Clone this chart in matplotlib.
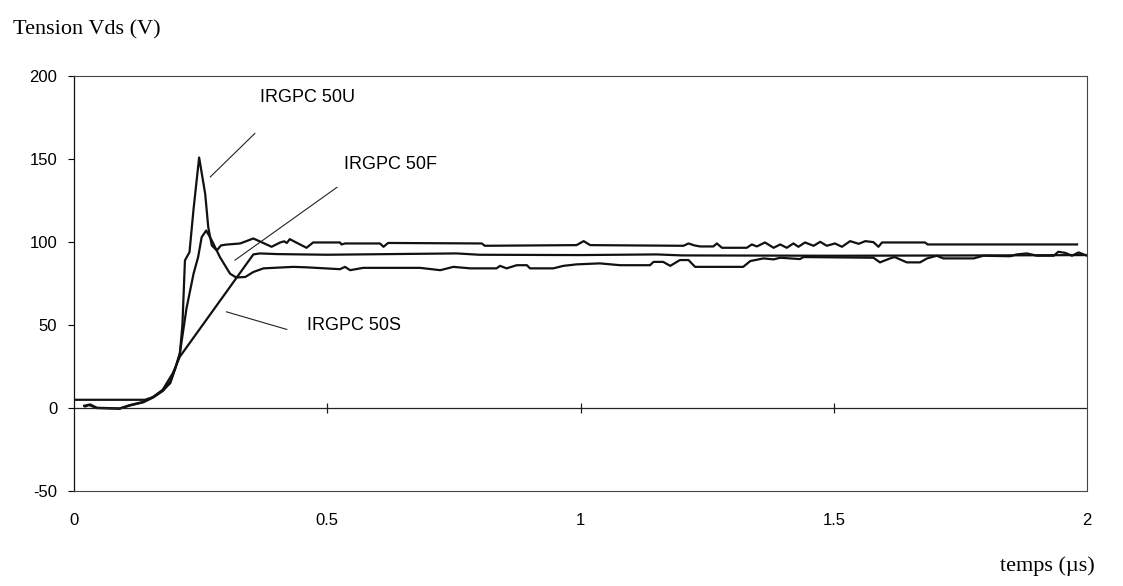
import numpy as np
import matplotlib
matplotlib.use("Agg")
import matplotlib.pyplot as plt

# ── Curve data ───────────────────────────────────────────────────────────────
t_50u = [0.02, 0.032, 0.045, 0.09, 0.11, 0.137, 0.157, 0.176, 0.19, 0.2, 0.209,
         0.214, 0.219, 0.228, 0.236, 0.247, 0.253, 0.259, 0.265, 0.272, 0.282,
         0.29, 0.3, 0.328, 0.354, 0.37, 0.39, 0.407, 0.415, 0.42, 0.426, 0.436,
         0.459, 0.472, 0.525, 0.528, 0.535, 0.604, 0.611, 0.62, 0.805, 0.811,
         0.992, 1.006, 1.019, 1.203, 1.213, 1.225, 1.236, 1.262, 1.269, 1.279,
         1.328, 1.338, 1.348, 1.364, 1.381, 1.394, 1.407, 1.42, 1.43, 1.443,
         1.46, 1.473, 1.486, 1.502, 1.516, 1.532, 1.549, 1.562, 1.578, 1.588,
         1.595, 1.68, 1.685, 1.98]
v_50u = [1.4, 2.2, 0.2, -0.2, 1.8, 3.8, 6.8, 10.8, 15, 24, 33,
         50, 89, 94, 120, 151, 140, 129, 109, 98, 95,
         98, 98.5, 99.2, 102.2, 100, 97.2, 99.8, 100.5, 99.5, 101.8, 100.2,
         96.6, 99.8, 99.8, 98.6, 99.2, 99.2, 97.2, 99.5, 99.2, 97.8,
         98.2, 100.6, 98.2, 97.8, 99.2, 98, 97.4, 97.4, 99.2, 96.6,
         96.6, 98.6, 97.4, 99.8, 96.6, 98.6, 96.6, 99.2, 97.2, 99.8,
         97.8, 100.2, 97.8, 99.2, 97.2, 100.6, 99, 100.6, 100, 97.2,
         99.8, 99.8, 98.6, 98.6]

t_50f = [0.022, 0.03, 0.045, 0.09, 0.11, 0.137, 0.157, 0.176, 0.19, 0.2, 0.209,
         0.222, 0.236, 0.245, 0.252, 0.261, 0.272, 0.288, 0.308, 0.32, 0.338,
         0.354, 0.374, 0.433, 0.46, 0.525, 0.535, 0.545, 0.571, 0.683, 0.723,
         0.749, 0.782, 0.834, 0.841, 0.854, 0.874, 0.894, 0.9, 0.946, 0.966,
         0.992, 1.038, 1.078, 1.137, 1.144, 1.163, 1.177, 1.196, 1.213, 1.226,
         1.321, 1.335, 1.361, 1.381, 1.394, 1.433, 1.44, 1.578, 1.591, 1.611,
         1.62, 1.644, 1.67, 1.684, 1.703, 1.716, 1.776, 1.795, 1.848, 1.861,
         1.881, 1.901, 1.934, 1.943, 1.957, 1.97, 1.983, 2.0]
v_50f = [1.0, 1.8, 0.0, -0.4, 1.5, 3.5, 6.5, 10.5, 16, 24, 33,
         60, 81, 91, 103, 107, 101, 91, 81, 78.7, 79,
         82, 84.2, 85.1, 84.8, 83.7, 85.1, 83.1, 84.5, 84.5, 83.1,
         85.1, 84.2, 84.2, 85.7, 84.2, 86.1, 86.1, 84.2, 84.2, 85.7,
         86.6, 87.2, 86.1, 86.1, 88.1, 88.1, 85.7, 89.2, 89.2, 85.1,
         85.1, 88.6, 90.2, 89.6, 90.6, 89.8, 91, 90.6, 87.8, 90.2,
         91, 87.8, 87.8, 90.2, 91.8, 90.2, 90.2, 91.8, 91.5, 92.6,
         93.2, 91.8, 91.8, 94.2, 93.5, 91.8, 93.8, 91.8]

t_50s = [0.0, 0.14, 0.155, 0.175, 0.195, 0.209, 0.354, 0.367, 0.4, 0.5,
         0.755, 0.8, 1.0, 1.15, 1.2, 1.5, 1.8, 2.0]
v_50s = [5, 5, 6.5, 11, 21, 31, 92.6, 93.2, 92.8, 92.4,
         93.2, 92.4, 92.2, 92.6, 92, 91.8, 92, 92.2]

# ── Labels and leader lines ──────────────────────────────────────────────────
labels = ["IRGPC 50U", "IRGPC 50F", "IRGPC 50S"]
label_pos = [(0.367, 187), (0.532, 147), (0.459, 50)]
leader_x = [(0.357, 0.269), (0.519, 0.318), (0.301, 0.42)]
leader_y = [(165.5, 139.3), (133, 89.2), (58, 47.4)]

x_ticks = [0, 0.5, 1, 1.5, 2]
x_ticklabels = ["0", "0.5", "1", "1.5", "2"]
y_ticks = [-50, 0, 50, 100, 150, 200]
y_ticklabels = ["-50", "0", "50", "100", "150", "200"]

fig = plt.figure(figsize=(11.23, 5.86), dpi=100)
ax = fig.add_axes([0.0659, 0.162, 0.9022, 0.708])

for t, v in [(t_50u, v_50u), (t_50f, v_50f), (t_50s, v_50s)]:
    ax.plot(t, v, color="#111111", lw=1.6, solid_joinstyle="round")

# zero line with x tick marks on it
ax.axhline(0, color="#222222", lw=0.9)
ax.plot(x_ticks[1:-1], [0] * len(x_ticks[1:-1]), ls="none", marker="|",
        color="#222222", markersize=7, markeredgewidth=0.9)

for lab, (tx, ty), lx, ly in zip(labels, label_pos, leader_x, leader_y):
    ax.text(tx, ty, lab, fontsize=13, family="Liberation Sans",
            ha="left", va="center")
    ax.plot(lx, ly, color="#222222", lw=0.8)

ax.set_xlim(0, 2)
ax.set_ylim(-50, 200)
ax.set_xticks(x_ticks)
ax.set_xticklabels(x_ticklabels)
ax.set_yticks(y_ticks)
ax.set_yticklabels(y_ticklabels)
ax.tick_params(axis="x", length=0, pad=16, labelsize=12)
ax.tick_params(axis="y", length=4, width=0.8, direction="out", pad=8,
               labelsize=12)
for lbl in ax.get_xticklabels() + ax.get_yticklabels():
    lbl.set_family("Liberation Sans")

for side in ["top", "right", "bottom"]:
    ax.spines[side].set_linewidth(0.8)
    ax.spines[side].set_color("#444444")
ax.spines["left"].set_linewidth(0.9)
ax.spines["left"].set_color("#111111")

fig.text(0.0116, 0.949, "Tension Vds (V)", fontsize=16,
         family="Liberation Serif", ha="left", va="center")
fig.text(0.975, 0.034, "temps (µs)", fontsize=16,
         family="Liberation Serif", ha="right", va="center")

fig.savefig("out.png", dpi=100)
